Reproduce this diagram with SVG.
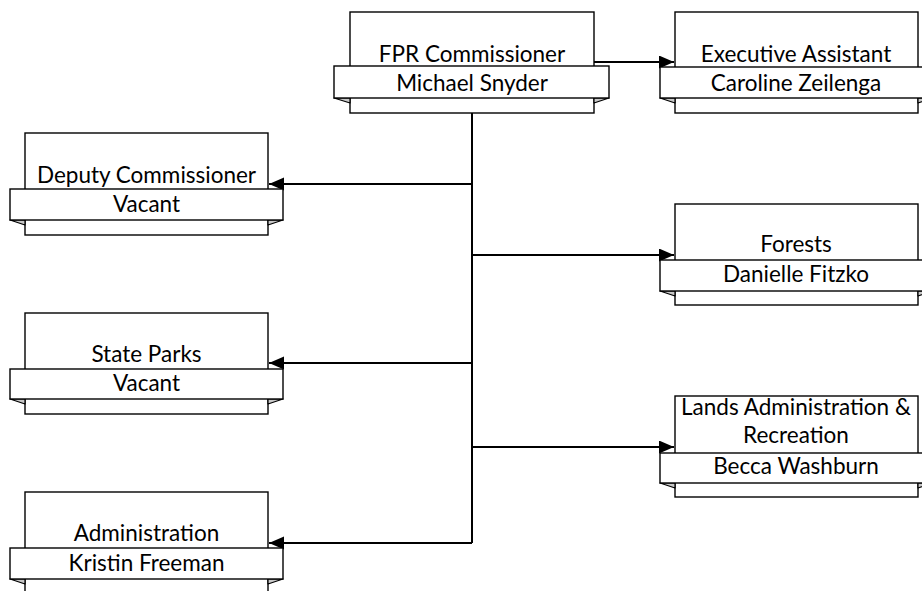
<svg xmlns="http://www.w3.org/2000/svg" width="922" height="591" viewBox="0 0 922 591">
<style>
.box{fill:#fff;stroke:#000;stroke-width:1.4}
.tab{fill:#c8c8c8;stroke:#000;stroke-width:1.2;stroke-linejoin:round}
.ban{fill:#fff;stroke:#000;stroke-width:1.4}
.t{font-family:Lato,"Open Sans",sans-serif;font-size:22.5px;fill:#000;text-anchor:middle}
.c{fill:none;stroke:#000;stroke-width:2}
</style>
<defs>
<marker id="ah" markerWidth="16" markerHeight="14" refX="15" refY="6.5" orient="auto" markerUnits="userSpaceOnUse">
<path d="M0,0 L15,6.5 L0,13 Z" fill="#000"/>
</marker>
</defs>
<rect width="922" height="591" fill="#fff"/>
<g id="connectors">
<path class="c" d="M594,62 H674" marker-end="url(#ah)"/>
<path class="c" d="M472,113 V543"/>
<path class="c" d="M472,184 H269" marker-end="url(#ah)"/>
<path class="c" d="M472,363 H269" marker-end="url(#ah)"/>
<path class="c" d="M472,543 H269" marker-end="url(#ah)"/>
<path class="c" d="M472,255 H674" marker-end="url(#ah)"/>
<path class="c" d="M472,447 H674" marker-end="url(#ah)"/>
</g>
<g id="fpr">
<rect class="box" x="350" y="12" width="244" height="101"/>
<path class="tab" d="M334,98 L350,98 L350,103 Z"/>
<path class="tab" d="M609,98 L594,98 L594,103 Z"/>
<rect class="ban" x="334" y="66" width="275" height="32"/>
<text class="t" x="472" y="62">FPR Commissioner</text>
<text class="t" x="472" y="91">Michael Snyder</text>
</g>
<g id="exec">
<rect class="box" x="675" y="12" width="243" height="101"/>
<path class="tab" d="M660,98 L675,98 L675,103 Z"/>
<path class="tab" d="M933,98 L918,98 L918,103 Z"/>
<rect class="ban" x="660" y="67" width="273" height="31"/>
<text class="t" x="796" y="62">Executive Assistant</text>
<text class="t" x="796" y="91">Caroline Zeilenga</text>
</g>
<g id="forests">
<rect class="box" x="675" y="204" width="243" height="101"/>
<path class="tab" d="M660,291 L675,291 L675,296 Z"/>
<path class="tab" d="M933,291 L918,291 L918,296 Z"/>
<rect class="ban" x="660" y="260" width="273" height="31"/>
<text class="t" x="796" y="252">Forests</text>
<text class="t" x="796" y="282">Danielle Fitzko</text>
</g>
<g id="lands">
<rect class="box" x="675" y="396" width="243" height="101"/>
<path class="tab" d="M660,483 L675,483 L675,488 Z"/>
<path class="tab" d="M933,483 L918,483 L918,488 Z"/>
<rect class="ban" x="660" y="453" width="273" height="30"/>
<text class="t" x="796" y="415">Lands Administration &amp;</text>
<text class="t" x="796" y="443">Recreation</text>
<text class="t" x="796" y="474">Becca Washburn</text>
</g>
<g id="deputy">
<rect class="box" x="25" y="133" width="243" height="102"/>
<path class="tab" d="M10,220 L25,220 L25,225 Z"/>
<path class="tab" d="M283,220 L268,220 L268,225 Z"/>
<rect class="ban" x="10" y="189" width="273" height="31"/>
<text class="t" x="146.5" y="183">Deputy Commissioner</text>
<text class="t" x="146.5" y="212">Vacant</text>
</g>
<g id="parks">
<rect class="box" x="25" y="313" width="243" height="101"/>
<path class="tab" d="M10,399 L25,399 L25,404 Z"/>
<path class="tab" d="M283,399 L268,399 L268,404 Z"/>
<rect class="ban" x="10" y="369" width="273" height="30"/>
<text class="t" x="146.5" y="362">State Parks</text>
<text class="t" x="146.5" y="391">Vacant</text>
</g>
<g id="admin">
<rect class="box" x="25" y="492" width="243" height="101"/>
<path class="tab" d="M10,579 L25,579 L25,584 Z"/>
<path class="tab" d="M283,579 L268,579 L268,584 Z"/>
<rect class="ban" x="10" y="548" width="273" height="31"/>
<text class="t" x="146.5" y="541">Administration</text>
<text class="t" x="146.5" y="571">Kristin Freeman</text>
</g>
</svg>
